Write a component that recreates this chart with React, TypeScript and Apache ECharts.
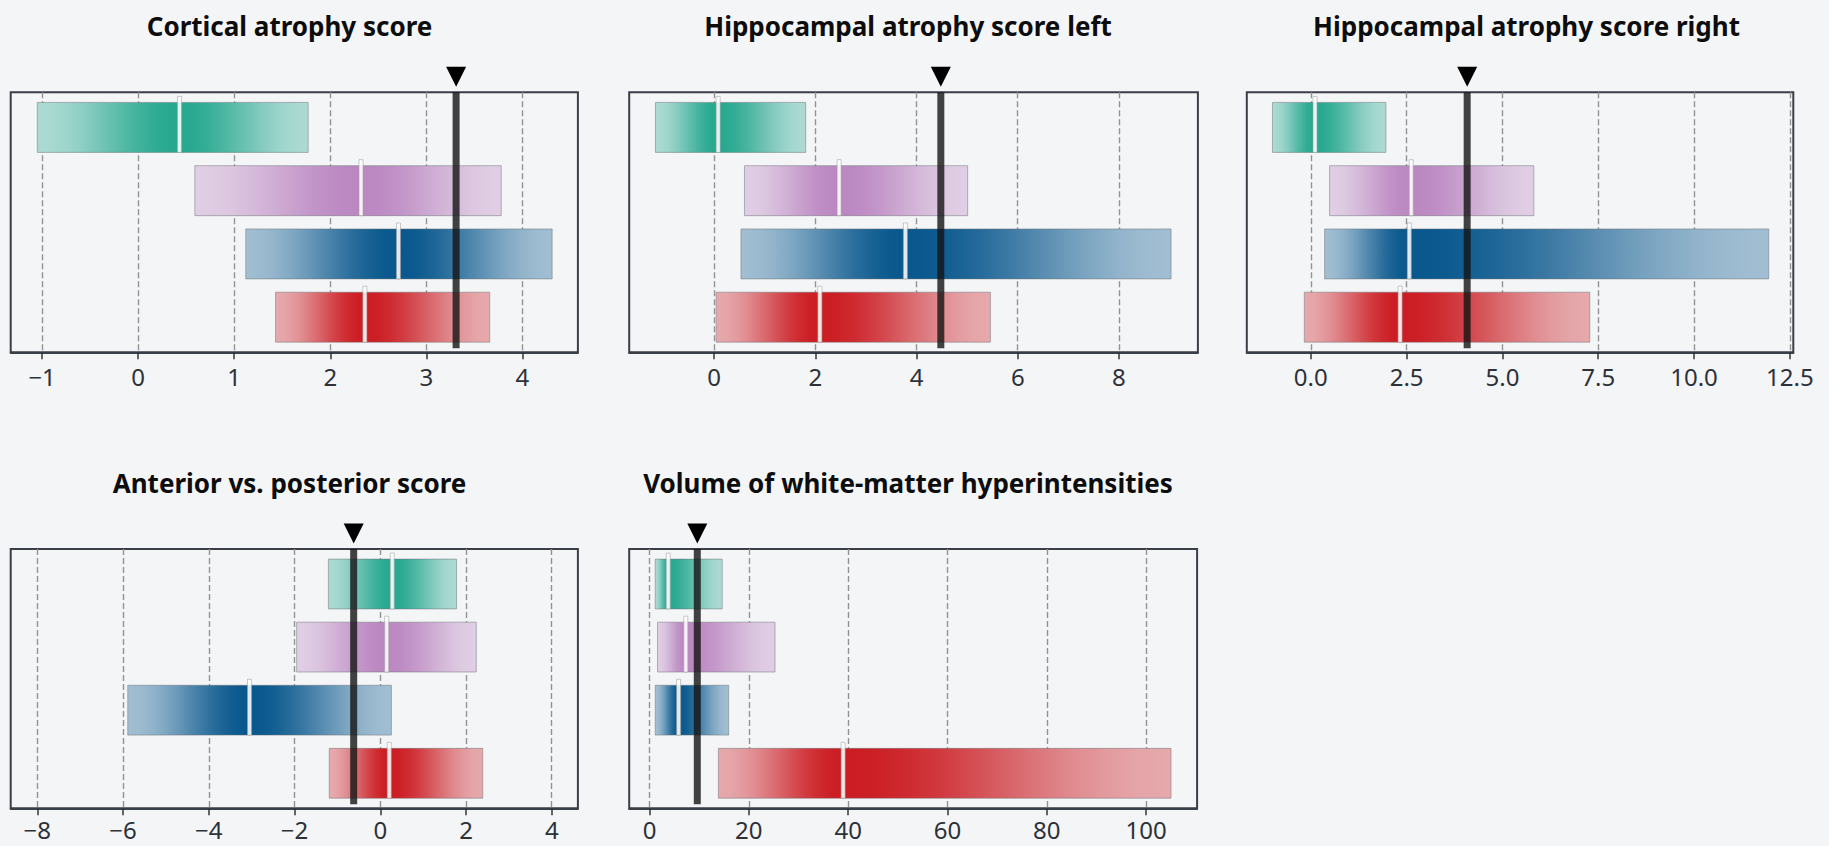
import React, { useEffect, useRef } from 'react';
import * as echarts from 'echarts';

// ---------- data ----------
const groupNames = ['Group 1', 'Group 2', 'Group 3', 'Group 4'];
const groupColors = ['#26a88f', '#bb87c1', '#08578d', '#cb1c22'];

const panelTitles = [
  'Cortical atrophy score',
  'Hippocampal atrophy score left',
  'Hippocampal atrophy score right',
  'Anterior vs. posterior score',
  'Volume of white-matter hyperintensities',
];

// low / median / high per group (top to bottom)
const cortLow = [-1.05, 0.59, 1.12, 1.43];
const cortMedian = [0.43, 2.32, 2.71, 2.36];
const cortHigh = [1.77, 3.78, 4.31, 3.66];
const cortThreshold = 3.31;

const hippLeftLow = [-1.16, 0.6, 0.53, 0.04];
const hippLeftMedian = [0.08, 2.47, 3.78, 2.09];
const hippLeftHigh = [1.81, 5.01, 9.03, 5.46];
const hippLeftThreshold = 4.48;

const hippRightLow = [-1.0, 0.49, 0.36, -0.17];
const hippRightMedian = [0.11, 2.62, 2.57, 2.33];
const hippRightHigh = [1.96, 5.82, 11.95, 7.28];
const hippRightThreshold = 4.08;

const antPostLow = [-1.21, -1.95, -5.89, -1.19];
const antPostMedian = [0.28, 0.15, -3.05, 0.21];
const antPostHigh = [1.78, 2.24, 0.26, 2.39];
const antPostThreshold = -0.62;

const wmhLow = [1.15, 1.61, 1.15, 13.87];
const wmhMedian = [3.77, 7.31, 5.86, 38.98];
const wmhHigh = [14.64, 25.27, 15.94, 105.0];
const wmhThreshold = 9.62;

const cortTicks = [-1, 0, 1, 2, 3, 4];
const cortTickLabels = ['−1', '0', '1', '2', '3', '4'];
const hippLeftTicks = [0, 2, 4, 6, 8];
const hippLeftTickLabels = ['0', '2', '4', '6', '8'];
const hippRightTicks = [0, 2.5, 5, 7.5, 10, 12.5];
const hippRightTickLabels = ['0.0', '2.5', '5.0', '7.5', '10.0', '12.5'];
const antPostTicks = [-8, -6, -4, -2, 0, 2, 4];
const antPostTickLabels = ['−8', '−6', '−4', '−2', '0', '2', '4'];
const wmhTicks = [0, 20, 40, 60, 80, 100];
const wmhTickLabels = ['0', '20', '40', '60', '80', '100'];

const axisMins = [-1.327, -1.678, -1.67, -8.62, -4.09];
const axisMaxs = [4.578, 9.56, 12.59, 4.61, 110.25];

// ---------- layout ----------
const W = 1829;
const H = 846;
const BG = '#f4f5f7';
const grids = [
  { left: 10.7, top: 92.3, width: 567.2, height: 260, titleX: 289.5, labelMargin: 12 },
  { left: 629.2, top: 92.3, width: 568.7, height: 260, titleX: 908, labelMargin: 12 },
  { left: 1246.8, top: 92.3, width: 546.5, height: 260, titleX: 1526.5, labelMargin: 12 },
  { left: 10.7, top: 549, width: 567.2, height: 259.3, titleX: 289.5, labelMargin: 9 },
  { left: 629.2, top: 549, width: 567.9, height: 259.3, titleX: 908, labelMargin: 9 },
];
const HALF = 0.395;

function hexToRgb(h: string) {
  const n = parseInt(h.slice(1), 16);
  return [(n >> 16) & 255, (n >> 8) & 255, n & 255];
}
const bgRgb = hexToRgb(BG);
function blend(hex: string, a: number) {
  const c = hexToRgb(hex);
  const r = c.map((v, i) => Math.round(bgRgb[i] + a * (v - bgRgb[i])));
  return `rgb(${r[0]},${r[1]},${r[2]})`;
}
function alphaAt(s: number) {
  const sm = s * s * (3 - 2 * s);
  return 1 - 0.65 * sm;
}
function gradientStops(hex: string, m: number) {
  const stops: any[] = [];
  const N = 10;
  for (let k = 0; k <= N; k++) {
    const s = 1 - k / N;
    stops.push({ offset: m * (k / N), color: blend(hex, alphaAt(s)) });
  }
  for (let k = 1; k <= N; k++) {
    const s = k / N;
    stops.push({ offset: m + (1 - m) * (k / N), color: blend(hex, alphaAt(s)) });
  }
  return stops;
}

const renderBars = (params: any, api: any) => {
  const idx = api.value(0);
  const low = api.value(1);
  const high = api.value(2);
  const med = api.value(3);
  const a = api.coord([low, idx - HALF]);
  const b = api.coord([high, idx + HALF]);
  const m = api.coord([med, idx]);
  const x0 = a[0];
  const x1 = b[0];
  const y0 = Math.min(a[1], b[1]);
  const y1 = Math.max(a[1], b[1]);
  const frac = Math.max(0, Math.min(1, (m[0] - x0) / (x1 - x0)));
  const color = groupColors[idx];
  return {
    type: 'group',
    children: [
      {
        type: 'rect',
        shape: { x: x0, y: y0, width: x1 - x0, height: y1 - y0 },
        style: {
          fill: new echarts.graphic.LinearGradient(0, 0, 1, 0, gradientStops(color, frac)),
          stroke: 'rgba(110,115,120,0.5)',
          lineWidth: 1,
        },
      },
      {
        type: 'rect',
        shape: { x: m[0] - 2, y: y0 - 6, width: 4, height: y1 - y0 + 6 },
        style: { fill: 'rgba(255,255,255,0.88)', stroke: 'rgba(160,160,160,0.8)', lineWidth: 0.7 },
      },
    ],
  };
};

const renderThreshold = (params: any, api: any) => {
  const cs = params.coordSys;
  const x = api.coord([api.value(0), 0])[0];
  return {
    type: 'group',
    children: [
      {
        type: 'rect',
        shape: { x: x - 3.5, y: cs.y, width: 7, height: cs.height - 4 },
        style: { fill: 'rgba(20,20,20,0.8)' },
      },
      {
        type: 'polygon',
        shape: { points: [[x - 10, cs.y - 25.6], [x + 10, cs.y - 25.6], [x, cs.y - 5.6]] },
        style: { fill: '#000' },
      },
    ],
  };
};

const panels = [
  { low: cortLow, med: cortMedian, high: cortHigh, thr: cortThreshold, ticks: cortTicks, labels: cortTickLabels },
  { low: hippLeftLow, med: hippLeftMedian, high: hippLeftHigh, thr: hippLeftThreshold, ticks: hippLeftTicks, labels: hippLeftTickLabels },
  { low: hippRightLow, med: hippRightMedian, high: hippRightHigh, thr: hippRightThreshold, ticks: hippRightTicks, labels: hippRightTickLabels },
  { low: antPostLow, med: antPostMedian, high: antPostHigh, thr: antPostThreshold, ticks: antPostTicks, labels: antPostTickLabels },
  { low: wmhLow, med: wmhMedian, high: wmhHigh, thr: wmhThreshold, ticks: wmhTicks, labels: wmhTickLabels },
];

function buildOption() {
  const title: any[] = [];
  const grid: any[] = [];
  const xAxis: any[] = [];
  const yAxis: any[] = [];
  const series: any[] = [];
  panels.forEach((p, i) => {
    const g = grids[i];
    grid.push({
      left: g.left,
      top: g.top,
      width: g.width,
      height: g.height,
      show: true,
      borderColor: '#3a3f47',
      borderWidth: 2,
      backgroundColor: 'transparent',
      containLabel: false,
    });
    title.push({
      text: panelTitles[i],
      left: g.titleX,
      top: g.top - 79,
      padding: 0,
      textAlign: 'center',
      textStyle: { fontFamily: 'Noto Sans', fontWeight: 'bold', fontSize: 26, color: '#0d0d0d' },
    });
    const ticks = p.ticks;
    const labels = p.labels;
    xAxis.push({
      type: 'value',
      gridIndex: i,
      min: axisMins[i],
      max: axisMaxs[i],
      axisLine: { show: true, onZero: false, lineStyle: { color: '#3a3f47', width: 2 } },
      axisTick: { show: true, length: 7, inside: false, lineStyle: { color: '#30343a', width: 1.5 }, customValues: ticks },
      axisLabel: {
        show: true,
        customValues: ticks,
        margin: g.labelMargin,
        fontSize: 24,
        fontFamily: 'Noto Sans',
        color: '#2d3138',
        formatter: (v: number) => {
          const k = ticks.findIndex((t) => Math.abs(t - v) < 1e-6);
          return k >= 0 ? labels[k] : '';
        },
      },
      splitLine: { show: true, lineStyle: { color: '#929292', type: [6, 3], width: 1.4 } },
    });
    yAxis.push({
      type: 'value',
      gridIndex: i,
      inverse: true,
      min: -0.555,
      max: 3.555,
      show: false,
      axisLine: { onZero: false },
      splitLine: { show: false },
    });
    series.push({
      type: 'custom',
      name: panelTitles[i],
      xAxisIndex: i,
      yAxisIndex: i,
      renderItem: renderBars,
      data: groupNames.map((_, k) => [k, p.low[k], p.high[k], p.med[k]]),
      z: 3,
    });
    series.push({
      type: 'custom',
      name: panelTitles[i] + ' threshold',
      xAxisIndex: i,
      yAxisIndex: i,
      renderItem: renderThreshold,
      data: [[p.thr, 0]],
      z: 5,
    });
  });
  return { animation: false, backgroundColor: BG, title, grid, xAxis, yAxis, series, tooltip: { show: false } };
}

export default function App() {
  const ref = useRef<HTMLDivElement>(null);
  useEffect(() => {
    document.body.style.margin = '0';
    document.body.style.background = BG;
    if (!ref.current) return;
    const chart = echarts.init(ref.current, undefined, { renderer: 'svg', width: W, height: H });
    chart.setOption(buildOption());
    return () => chart.dispose();
  }, []);
  return (
    <div
      ref={ref}
      style={{ position: 'absolute', left: 0, top: 0, width: W, height: H, background: BG, overflow: 'hidden' }}
    />
  );
}
